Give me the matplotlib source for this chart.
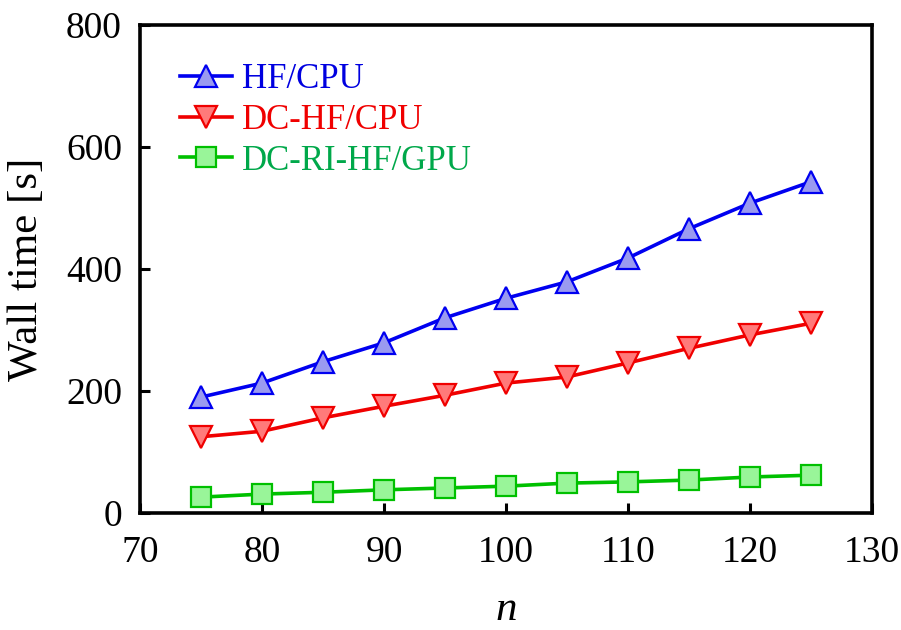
import matplotlib
matplotlib.use("Agg")
import matplotlib.pyplot as plt

n_values = [75, 80, 85, 90, 95, 100, 105, 110, 115, 120, 125]
hf_cpu = [190, 213, 248, 279, 320, 352, 379, 418, 466, 508, 543]
dc_hf_cpu = [125, 134, 156, 175, 193, 213, 223, 246, 270, 292, 311]
dc_ri_hf_gpu = [26, 31, 34, 38, 41, 44, 49, 51, 54, 59, 62]

series_labels = ["HF/CPU", "DC-HF/CPU", "DC-RI-HF/GPU"]
x_ticks = [70, 80, 90, 100, 110, 120, 130]
y_ticks = [0, 200, 400, 600, 800]

plt.rcParams["font.family"] = ["Liberation Serif", "DejaVu Serif"]

fig = plt.figure(figsize=(9.01, 6.3), dpi=100)
ax = fig.add_axes([140 / 901, 1 - 513 / 630, 732 / 901, 488 / 630])

styles = [
    dict(color="#0000f0", marker="^", mfc="#9a9af0", mec="#0000f0", ms=16),
    dict(color="#f00000", marker="v", mfc="#ff7a7a", mec="#f00000", ms=16),
    dict(color="#00c000", marker="s", mfc="#99f599", mec="#00c000", ms=14),
]
for ys, lab, st in zip([hf_cpu, dc_hf_cpu, dc_ri_hf_gpu], series_labels, styles):
    ax.plot(n_values, ys, label=lab, lw=2.6, mew=1.6, **st)

ax.set_xlim(70, 130)
ax.set_ylim(0, 800)
ax.set_xticks(x_ticks)
ax.set_yticks(y_ticks)
ax.tick_params(direction="in", length=7, width=2.2, labelsize=27)
ax.tick_params(axis="x", pad=16)
ax.tick_params(axis="y", pad=13)
for sp in ax.spines.values():
    sp.set_linewidth(2.6)

ax.set_ylabel("Wall time [s]", fontsize=31, labelpad=14)
ax.set_xlabel("n", fontsize=31, style="italic", labelpad=15)

leg = ax.legend(loc="upper left", bbox_to_anchor=(0.035, 0.95), frameon=False,
                fontsize=25, handlelength=1.5, handletextpad=0.3,
                labelspacing=0.22, borderaxespad=0.0)
for txt, c in zip(leg.get_texts(), ["#0000e0", "#f00000", "#00a84a"]):
    txt.set_color(c)

fig.savefig("out.png", dpi=100)
